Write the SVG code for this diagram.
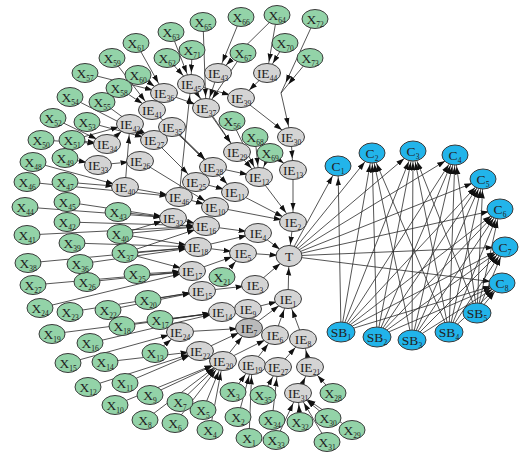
<svg xmlns="http://www.w3.org/2000/svg" width="532" height="462" viewBox="0 0 532 462">
<defs>
<marker id="ah" markerUnits="userSpaceOnUse" markerWidth="8" markerHeight="6" refX="19.5" refY="3" orient="auto"><path d="M0,0.3 L8,3 L0,5.7z" fill="#111"/></marker>
</defs>
<style>
.e line{stroke:#2a2a2a;stroke-width:.8;marker-end:url(#ah)}
.n ellipse{stroke:#3a3a3a;stroke-width:1}
.x ellipse{fill:#93d3a8}
.i ellipse{fill:#d4d4d4}
.c ellipse{fill:#22b4ea}
.n text{font-family:"Liberation Serif",serif;font-size:13.5px;text-anchor:middle;fill:#222}
.s{font-size:7.5px}
</style>
<rect width="532" height="462" fill="#fff"/>
<g id="connectors" class="e">
<line x1="171" y1="32" x2="191" y2="84"/>
<line x1="167" y1="58" x2="191" y2="84"/>
<line x1="192" y1="50" x2="191" y2="84"/>
<line x1="136" y1="43" x2="164" y2="93"/>
<line x1="138" y1="75" x2="164" y2="93"/>
<line x1="85" y1="73" x2="164" y2="93"/>
<line x1="112" y1="58" x2="152" y2="110"/>
<line x1="119" y1="88" x2="152" y2="110"/>
<line x1="102" y1="102" x2="154" y2="140"/>
<line x1="70" y1="97" x2="154" y2="140"/>
<line x1="87" y1="122" x2="154" y2="140"/>
<line x1="53" y1="118" x2="107" y2="144"/>
<line x1="41" y1="140" x2="107" y2="144"/>
<line x1="72" y1="140" x2="130" y2="124"/>
<line x1="72" y1="140" x2="107" y2="144"/>
<line x1="203" y1="22" x2="206" y2="108"/>
<line x1="241" y1="17" x2="218" y2="73"/>
<line x1="243" y1="53" x2="206" y2="108"/>
<line x1="277" y1="15" x2="267" y2="73"/>
<line x1="277" y1="15" x2="218" y2="73"/>
<line x1="285" y1="43" x2="267" y2="73"/>
<line x1="315" y1="19" x2="281" y2="93"/>
<line x1="310" y1="58" x2="281" y2="93"/>
<line x1="218" y1="73" x2="206" y2="108"/>
<line x1="191" y1="84" x2="206" y2="108"/>
<line x1="191" y1="84" x2="241" y2="98"/>
<line x1="267" y1="73" x2="241" y2="98"/>
<line x1="281" y1="93" x2="291" y2="137"/>
<line x1="241" y1="98" x2="291" y2="137"/>
<line x1="291" y1="137" x2="293" y2="170"/>
<line x1="270" y1="153" x2="293" y2="170"/>
<line x1="270" y1="153" x2="259" y2="177"/>
<line x1="255" y1="137" x2="259" y2="177"/>
<line x1="232" y1="121" x2="259" y2="177"/>
<line x1="237" y1="152" x2="259" y2="177"/>
<line x1="213" y1="167" x2="259" y2="177"/>
<line x1="206" y1="108" x2="237" y2="152"/>
<line x1="191" y1="84" x2="237" y2="152"/>
<line x1="164" y1="93" x2="206" y2="108"/>
<line x1="152" y1="110" x2="213" y2="167"/>
<line x1="172" y1="127" x2="213" y2="167"/>
<line x1="172" y1="127" x2="235" y2="192"/>
<line x1="130" y1="124" x2="154" y2="140"/>
<line x1="107" y1="144" x2="130" y2="124"/>
<line x1="154" y1="140" x2="196" y2="182"/>
<line x1="196" y1="182" x2="235" y2="192"/>
<line x1="98" y1="165" x2="140" y2="161"/>
<line x1="140" y1="161" x2="215" y2="207"/>
<line x1="65" y1="158" x2="98" y2="165"/>
<line x1="33" y1="162" x2="125" y2="187"/>
<line x1="65" y1="182" x2="125" y2="187"/>
<line x1="125" y1="187" x2="179" y2="197"/>
<line x1="125" y1="187" x2="130" y2="124"/>
<line x1="179" y1="197" x2="191" y2="84"/>
<line x1="179" y1="197" x2="215" y2="207"/>
<line x1="215" y1="207" x2="293" y2="222"/>
<line x1="235" y1="192" x2="293" y2="222"/>
<line x1="259" y1="177" x2="293" y2="222"/>
<line x1="293" y1="170" x2="293" y2="222"/>
<line x1="293" y1="222" x2="289" y2="256"/>
<line x1="27" y1="182" x2="179" y2="197"/>
<line x1="25" y1="207" x2="173" y2="218"/>
<line x1="67" y1="202" x2="173" y2="218"/>
<line x1="118" y1="212" x2="173" y2="218"/>
<line x1="67" y1="222" x2="206" y2="226"/>
<line x1="27" y1="235" x2="206" y2="226"/>
<line x1="120" y1="234" x2="173" y2="218"/>
<line x1="120" y1="234" x2="206" y2="226"/>
<line x1="120" y1="234" x2="198" y2="247"/>
<line x1="72" y1="243" x2="198" y2="247"/>
<line x1="125" y1="253" x2="198" y2="247"/>
<line x1="125" y1="253" x2="206" y2="226"/>
<line x1="28" y1="263" x2="198" y2="247"/>
<line x1="80" y1="264" x2="198" y2="247"/>
<line x1="33" y1="285" x2="192" y2="271"/>
<line x1="87" y1="282" x2="192" y2="271"/>
<line x1="137" y1="274" x2="192" y2="271"/>
<line x1="125" y1="253" x2="192" y2="271"/>
<line x1="40" y1="308" x2="192" y2="271"/>
<line x1="70" y1="312" x2="202" y2="291"/>
<line x1="108" y1="310" x2="202" y2="291"/>
<line x1="148" y1="300" x2="202" y2="291"/>
<line x1="52" y1="334" x2="222" y2="312"/>
<line x1="122" y1="326" x2="222" y2="312"/>
<line x1="160" y1="320" x2="222" y2="312"/>
<line x1="90" y1="343" x2="222" y2="312"/>
<line x1="68" y1="363" x2="180" y2="332"/>
<line x1="105" y1="362" x2="200" y2="351"/>
<line x1="155" y1="353" x2="180" y2="332"/>
<line x1="88" y1="387" x2="200" y2="351"/>
<line x1="125" y1="383" x2="200" y2="351"/>
<line x1="150" y1="395" x2="223" y2="361"/>
<line x1="115" y1="405" x2="223" y2="361"/>
<line x1="145" y1="420" x2="223" y2="361"/>
<line x1="180" y1="402" x2="223" y2="361"/>
<line x1="175" y1="423" x2="223" y2="361"/>
<line x1="203" y1="410" x2="223" y2="361"/>
<line x1="210" y1="430" x2="223" y2="361"/>
<line x1="233" y1="392" x2="252" y2="365"/>
<line x1="238" y1="417" x2="252" y2="365"/>
<line x1="249" y1="438" x2="252" y2="365"/>
<line x1="263" y1="395" x2="278" y2="367"/>
<line x1="272" y1="420" x2="278" y2="367"/>
<line x1="276" y1="440" x2="298" y2="393"/>
<line x1="300" y1="422" x2="298" y2="393"/>
<line x1="328" y1="418" x2="298" y2="393"/>
<line x1="327" y1="442" x2="298" y2="393"/>
<line x1="352" y1="430" x2="298" y2="393"/>
<line x1="333" y1="393" x2="310" y2="367"/>
<line x1="298" y1="393" x2="310" y2="367"/>
<line x1="310" y1="367" x2="303" y2="339"/>
<line x1="278" y1="367" x2="303" y2="339"/>
<line x1="252" y1="365" x2="275" y2="335"/>
<line x1="223" y1="361" x2="275" y2="335"/>
<line x1="223" y1="361" x2="249" y2="328"/>
<line x1="200" y1="351" x2="249" y2="328"/>
<line x1="180" y1="332" x2="249" y2="328"/>
<line x1="222" y1="312" x2="248" y2="309"/>
<line x1="249" y1="328" x2="288" y2="299"/>
<line x1="248" y1="309" x2="288" y2="299"/>
<line x1="275" y1="335" x2="288" y2="299"/>
<line x1="303" y1="339" x2="288" y2="299"/>
<line x1="202" y1="291" x2="255" y2="285"/>
<line x1="192" y1="271" x2="243" y2="253"/>
<line x1="198" y1="247" x2="243" y2="253"/>
<line x1="198" y1="247" x2="258" y2="233"/>
<line x1="206" y1="226" x2="258" y2="233"/>
<line x1="222" y1="277" x2="243" y2="253"/>
<line x1="173" y1="218" x2="206" y2="226"/>
<line x1="288" y1="299" x2="289" y2="256"/>
<line x1="255" y1="285" x2="289" y2="256"/>
<line x1="258" y1="233" x2="289" y2="256"/>
<line x1="243" y1="253" x2="289" y2="256"/>
<line x1="289" y1="256" x2="338" y2="166"/>
<line x1="289" y1="256" x2="372" y2="153"/>
<line x1="289" y1="256" x2="413" y2="151"/>
<line x1="289" y1="256" x2="455" y2="155"/>
<line x1="289" y1="256" x2="483" y2="179"/>
<line x1="289" y1="256" x2="500" y2="209"/>
<line x1="289" y1="256" x2="505" y2="247"/>
<line x1="289" y1="256" x2="502" y2="283"/>
<line x1="341" y1="332" x2="338" y2="166"/>
<line x1="341" y1="332" x2="372" y2="153"/>
<line x1="341" y1="332" x2="413" y2="151"/>
<line x1="341" y1="332" x2="455" y2="155"/>
<line x1="341" y1="332" x2="483" y2="179"/>
<line x1="341" y1="332" x2="500" y2="209"/>
<line x1="341" y1="332" x2="505" y2="247"/>
<line x1="341" y1="332" x2="502" y2="283"/>
<line x1="377" y1="337" x2="372" y2="153"/>
<line x1="377" y1="337" x2="413" y2="151"/>
<line x1="377" y1="337" x2="455" y2="155"/>
<line x1="377" y1="337" x2="483" y2="179"/>
<line x1="377" y1="337" x2="500" y2="209"/>
<line x1="377" y1="337" x2="505" y2="247"/>
<line x1="377" y1="337" x2="502" y2="283"/>
<line x1="412" y1="340" x2="372" y2="153"/>
<line x1="412" y1="340" x2="413" y2="151"/>
<line x1="412" y1="340" x2="455" y2="155"/>
<line x1="412" y1="340" x2="483" y2="179"/>
<line x1="412" y1="340" x2="500" y2="209"/>
<line x1="412" y1="340" x2="505" y2="247"/>
<line x1="412" y1="340" x2="502" y2="283"/>
<line x1="449" y1="332" x2="372" y2="153"/>
<line x1="449" y1="332" x2="413" y2="151"/>
<line x1="449" y1="332" x2="455" y2="155"/>
<line x1="449" y1="332" x2="483" y2="179"/>
<line x1="449" y1="332" x2="500" y2="209"/>
<line x1="449" y1="332" x2="505" y2="247"/>
<line x1="449" y1="332" x2="502" y2="283"/>
<line x1="477" y1="313" x2="413" y2="151"/>
<line x1="477" y1="313" x2="455" y2="155"/>
<line x1="477" y1="313" x2="483" y2="179"/>
<line x1="477" y1="313" x2="500" y2="209"/>
<line x1="477" y1="313" x2="505" y2="247"/>
<line x1="477" y1="313" x2="502" y2="283"/>
</g>
<g id="X1" class="n x"><ellipse cx="249" cy="438" rx="13" ry="9.5"/><text x="249" y="442.5">X<tspan class="s" dy="3">1</tspan></text></g>
<g id="X2" class="n x"><ellipse cx="238" cy="417" rx="13" ry="9.5"/><text x="238" y="421.5">X<tspan class="s" dy="3">2</tspan></text></g>
<g id="X3" class="n x"><ellipse cx="233" cy="392" rx="13" ry="9.5"/><text x="233" y="396.5">X<tspan class="s" dy="3">3</tspan></text></g>
<g id="X4" class="n x"><ellipse cx="210" cy="430" rx="13" ry="9.5"/><text x="210" y="434.5">X<tspan class="s" dy="3">4</tspan></text></g>
<g id="X5" class="n x"><ellipse cx="203" cy="410" rx="13" ry="9.5"/><text x="203" y="414.5">X<tspan class="s" dy="3">5</tspan></text></g>
<g id="X6" class="n x"><ellipse cx="175" cy="423" rx="13" ry="9.5"/><text x="175" y="427.5">X<tspan class="s" dy="3">6</tspan></text></g>
<g id="X7" class="n x"><ellipse cx="180" cy="402" rx="13" ry="9.5"/><text x="180" y="406.5">X<tspan class="s" dy="3">7</tspan></text></g>
<g id="X8" class="n x"><ellipse cx="145" cy="420" rx="13" ry="9.5"/><text x="145" y="424.5">X<tspan class="s" dy="3">8</tspan></text></g>
<g id="X9" class="n x"><ellipse cx="150" cy="395" rx="13" ry="9.5"/><text x="150" y="399.5">X<tspan class="s" dy="3">9</tspan></text></g>
<g id="X10" class="n x"><ellipse cx="115" cy="405" rx="13" ry="9.5"/><text x="115" y="409.5">X<tspan class="s" dy="3">10</tspan></text></g>
<g id="X11" class="n x"><ellipse cx="125" cy="383" rx="13" ry="9.5"/><text x="125" y="387.5">X<tspan class="s" dy="3">11</tspan></text></g>
<g id="X12" class="n x"><ellipse cx="88" cy="387" rx="13" ry="9.5"/><text x="88" y="391.5">X<tspan class="s" dy="3">12</tspan></text></g>
<g id="X13" class="n x"><ellipse cx="155" cy="353" rx="13" ry="9.5"/><text x="155" y="357.5">X<tspan class="s" dy="3">13</tspan></text></g>
<g id="X14" class="n x"><ellipse cx="105" cy="362" rx="13" ry="9.5"/><text x="105" y="366.5">X<tspan class="s" dy="3">14</tspan></text></g>
<g id="X15" class="n x"><ellipse cx="68" cy="363" rx="13" ry="9.5"/><text x="68" y="367.5">X<tspan class="s" dy="3">15</tspan></text></g>
<g id="X16" class="n x"><ellipse cx="90" cy="343" rx="13" ry="9.5"/><text x="90" y="347.5">X<tspan class="s" dy="3">16</tspan></text></g>
<g id="X17" class="n x"><ellipse cx="160" cy="320" rx="13" ry="9.5"/><text x="160" y="324.5">X<tspan class="s" dy="3">17</tspan></text></g>
<g id="X18" class="n x"><ellipse cx="122" cy="326" rx="13" ry="9.5"/><text x="122" y="330.5">X<tspan class="s" dy="3">18</tspan></text></g>
<g id="X19" class="n x"><ellipse cx="52" cy="334" rx="13" ry="9.5"/><text x="52" y="338.5">X<tspan class="s" dy="3">19</tspan></text></g>
<g id="X20" class="n x"><ellipse cx="148" cy="300" rx="13" ry="9.5"/><text x="148" y="304.5">X<tspan class="s" dy="3">20</tspan></text></g>
<g id="X21" class="n x"><ellipse cx="222" cy="277" rx="13" ry="9.5"/><text x="222" y="281.5">X<tspan class="s" dy="3">21</tspan></text></g>
<g id="X22" class="n x"><ellipse cx="108" cy="310" rx="13" ry="9.5"/><text x="108" y="314.5">X<tspan class="s" dy="3">22</tspan></text></g>
<g id="X23" class="n x"><ellipse cx="70" cy="312" rx="13" ry="9.5"/><text x="70" y="316.5">X<tspan class="s" dy="3">23</tspan></text></g>
<g id="X24" class="n x"><ellipse cx="40" cy="308" rx="13" ry="9.5"/><text x="40" y="312.5">X<tspan class="s" dy="3">24</tspan></text></g>
<g id="X25" class="n x"><ellipse cx="137" cy="274" rx="13" ry="9.5"/><text x="137" y="278.5">X<tspan class="s" dy="3">25</tspan></text></g>
<g id="X26" class="n x"><ellipse cx="87" cy="282" rx="13" ry="9.5"/><text x="87" y="286.5">X<tspan class="s" dy="3">26</tspan></text></g>
<g id="X27" class="n x"><ellipse cx="33" cy="285" rx="13" ry="9.5"/><text x="33" y="289.5">X<tspan class="s" dy="3">27</tspan></text></g>
<g id="X28" class="n x"><ellipse cx="333" cy="393" rx="13" ry="9.5"/><text x="333" y="397.5">X<tspan class="s" dy="3">28</tspan></text></g>
<g id="X29" class="n x"><ellipse cx="352" cy="430" rx="13" ry="9.5"/><text x="352" y="434.5">X<tspan class="s" dy="3">29</tspan></text></g>
<g id="X30" class="n x"><ellipse cx="328" cy="418" rx="13" ry="9.5"/><text x="328" y="422.5">X<tspan class="s" dy="3">30</tspan></text></g>
<g id="X31" class="n x"><ellipse cx="327" cy="442" rx="13" ry="9.5"/><text x="327" y="446.5">X<tspan class="s" dy="3">31</tspan></text></g>
<g id="X32" class="n x"><ellipse cx="300" cy="422" rx="13" ry="9.5"/><text x="300" y="426.5">X<tspan class="s" dy="3">32</tspan></text></g>
<g id="X33" class="n x"><ellipse cx="276" cy="440" rx="13" ry="9.5"/><text x="276" y="444.5">X<tspan class="s" dy="3">33</tspan></text></g>
<g id="X34" class="n x"><ellipse cx="272" cy="420" rx="13" ry="9.5"/><text x="272" y="424.5">X<tspan class="s" dy="3">34</tspan></text></g>
<g id="X35" class="n x"><ellipse cx="263" cy="395" rx="13" ry="9.5"/><text x="263" y="399.5">X<tspan class="s" dy="3">35</tspan></text></g>
<g id="X36" class="n x"><ellipse cx="80" cy="264" rx="13" ry="9.5"/><text x="80" y="268.5">X<tspan class="s" dy="3">36</tspan></text></g>
<g id="X37" class="n x"><ellipse cx="125" cy="253" rx="13" ry="9.5"/><text x="125" y="257.5">X<tspan class="s" dy="3">37</tspan></text></g>
<g id="X38" class="n x"><ellipse cx="28" cy="263" rx="13" ry="9.5"/><text x="28" y="267.5">X<tspan class="s" dy="3">38</tspan></text></g>
<g id="X39" class="n x"><ellipse cx="72" cy="243" rx="13" ry="9.5"/><text x="72" y="247.5">X<tspan class="s" dy="3">39</tspan></text></g>
<g id="X40" class="n x"><ellipse cx="120" cy="234" rx="13" ry="9.5"/><text x="120" y="238.5">X<tspan class="s" dy="3">40</tspan></text></g>
<g id="X41" class="n x"><ellipse cx="27" cy="235" rx="13" ry="9.5"/><text x="27" y="239.5">X<tspan class="s" dy="3">41</tspan></text></g>
<g id="X42" class="n x"><ellipse cx="67" cy="222" rx="13" ry="9.5"/><text x="67" y="226.5">X<tspan class="s" dy="3">42</tspan></text></g>
<g id="X43" class="n x"><ellipse cx="118" cy="212" rx="13" ry="9.5"/><text x="118" y="216.5">X<tspan class="s" dy="3">43</tspan></text></g>
<g id="X44" class="n x"><ellipse cx="25" cy="207" rx="13" ry="9.5"/><text x="25" y="211.5">X<tspan class="s" dy="3">44</tspan></text></g>
<g id="X45" class="n x"><ellipse cx="67" cy="202" rx="13" ry="9.5"/><text x="67" y="206.5">X<tspan class="s" dy="3">45</tspan></text></g>
<g id="X46" class="n x"><ellipse cx="27" cy="182" rx="13" ry="9.5"/><text x="27" y="186.5">X<tspan class="s" dy="3">46</tspan></text></g>
<g id="X47" class="n x"><ellipse cx="65" cy="182" rx="13" ry="9.5"/><text x="65" y="186.5">X<tspan class="s" dy="3">47</tspan></text></g>
<g id="X48" class="n x"><ellipse cx="33" cy="162" rx="13" ry="9.5"/><text x="33" y="166.5">X<tspan class="s" dy="3">48</tspan></text></g>
<g id="X49" class="n x"><ellipse cx="65" cy="158" rx="13" ry="9.5"/><text x="65" y="162.5">X<tspan class="s" dy="3">49</tspan></text></g>
<g id="X50" class="n x"><ellipse cx="41" cy="140" rx="13" ry="9.5"/><text x="41" y="144.5">X<tspan class="s" dy="3">50</tspan></text></g>
<g id="X51" class="n x"><ellipse cx="72" cy="140" rx="13" ry="9.5"/><text x="72" y="144.5">X<tspan class="s" dy="3">51</tspan></text></g>
<g id="X52" class="n x"><ellipse cx="53" cy="118" rx="13" ry="9.5"/><text x="53" y="122.5">X<tspan class="s" dy="3">52</tspan></text></g>
<g id="X53" class="n x"><ellipse cx="87" cy="122" rx="13" ry="9.5"/><text x="87" y="126.5">X<tspan class="s" dy="3">53</tspan></text></g>
<g id="X54" class="n x"><ellipse cx="70" cy="97" rx="13" ry="9.5"/><text x="70" y="101.5">X<tspan class="s" dy="3">54</tspan></text></g>
<g id="X55" class="n x"><ellipse cx="102" cy="102" rx="13" ry="9.5"/><text x="102" y="106.5">X<tspan class="s" dy="3">55</tspan></text></g>
<g id="X56" class="n x"><ellipse cx="232" cy="121" rx="13" ry="9.5"/><text x="232" y="125.5">X<tspan class="s" dy="3">56</tspan></text></g>
<g id="X57" class="n x"><ellipse cx="85" cy="73" rx="13" ry="9.5"/><text x="85" y="77.5">X<tspan class="s" dy="3">57</tspan></text></g>
<g id="X58" class="n x"><ellipse cx="119" cy="88" rx="13" ry="9.5"/><text x="119" y="92.5">X<tspan class="s" dy="3">58</tspan></text></g>
<g id="X59" class="n x"><ellipse cx="112" cy="58" rx="13" ry="9.5"/><text x="112" y="62.5">X<tspan class="s" dy="3">59</tspan></text></g>
<g id="X60" class="n x"><ellipse cx="138" cy="75" rx="13" ry="9.5"/><text x="138" y="79.5">X<tspan class="s" dy="3">60</tspan></text></g>
<g id="X61" class="n x"><ellipse cx="136" cy="43" rx="13" ry="9.5"/><text x="136" y="47.5">X<tspan class="s" dy="3">61</tspan></text></g>
<g id="X62" class="n x"><ellipse cx="167" cy="58" rx="13" ry="9.5"/><text x="167" y="62.5">X<tspan class="s" dy="3">62</tspan></text></g>
<g id="X63" class="n x"><ellipse cx="171" cy="32" rx="13" ry="9.5"/><text x="171" y="36.5">X<tspan class="s" dy="3">63</tspan></text></g>
<g id="X64" class="n x"><ellipse cx="277" cy="15" rx="13" ry="9.5"/><text x="277" y="19.5">X<tspan class="s" dy="3">64</tspan></text></g>
<g id="X65" class="n x"><ellipse cx="203" cy="22" rx="13" ry="9.5"/><text x="203" y="26.5">X<tspan class="s" dy="3">65</tspan></text></g>
<g id="X66" class="n x"><ellipse cx="241" cy="17" rx="13" ry="9.5"/><text x="241" y="21.5">X<tspan class="s" dy="3">66</tspan></text></g>
<g id="X67" class="n x"><ellipse cx="243" cy="53" rx="13" ry="9.5"/><text x="243" y="57.5">X<tspan class="s" dy="3">67</tspan></text></g>
<g id="X68" class="n x"><ellipse cx="255" cy="137" rx="13" ry="9.5"/><text x="255" y="141.5">X<tspan class="s" dy="3">68</tspan></text></g>
<g id="X69" class="n x"><ellipse cx="270" cy="153" rx="13" ry="9.5"/><text x="270" y="157.5">X<tspan class="s" dy="3">69</tspan></text></g>
<g id="X70" class="n x"><ellipse cx="285" cy="43" rx="13" ry="9.5"/><text x="285" y="47.5">X<tspan class="s" dy="3">70</tspan></text></g>
<g id="X71" class="n x"><ellipse cx="192" cy="50" rx="13" ry="9.5"/><text x="192" y="54.5">X<tspan class="s" dy="3">71</tspan></text></g>
<g id="X72" class="n x"><ellipse cx="315" cy="19" rx="13" ry="9.5"/><text x="315" y="23.5">X<tspan class="s" dy="3">72</tspan></text></g>
<g id="X73" class="n x"><ellipse cx="310" cy="58" rx="13" ry="9.5"/><text x="310" y="62.5">X<tspan class="s" dy="3">73</tspan></text></g>
<g id="IE1" class="n i"><ellipse cx="288" cy="299" rx="13.5" ry="9.5"/><text x="288" y="303.5">IE<tspan class="s" dy="3">1</tspan></text></g>
<g id="IE2" class="n i"><ellipse cx="293" cy="222" rx="13.5" ry="9.5"/><text x="293" y="226.5">IE<tspan class="s" dy="3">2</tspan></text></g>
<g id="IE3" class="n i"><ellipse cx="255" cy="285" rx="13.5" ry="9.5"/><text x="255" y="289.5">IE<tspan class="s" dy="3">3</tspan></text></g>
<g id="IE4" class="n i"><ellipse cx="258" cy="233" rx="13.5" ry="9.5"/><text x="258" y="237.5">IE<tspan class="s" dy="3">4</tspan></text></g>
<g id="IE5" class="n i"><ellipse cx="243" cy="253" rx="13.5" ry="9.5"/><text x="243" y="257.5">IE<tspan class="s" dy="3">5</tspan></text></g>
<g id="IE6" class="n i"><ellipse cx="275" cy="335" rx="13.5" ry="9.5"/><text x="275" y="339.5">IE<tspan class="s" dy="3">6</tspan></text></g>
<g id="IE7" class="n i"><ellipse cx="249" cy="328" rx="13.5" ry="9.5" style="fill:#bababa"/><text x="249" y="332.5">IE<tspan class="s" dy="3">7</tspan></text></g>
<g id="IE8" class="n i"><ellipse cx="303" cy="339" rx="13.5" ry="9.5"/><text x="303" y="343.5">IE<tspan class="s" dy="3">8</tspan></text></g>
<g id="IE9" class="n i"><ellipse cx="248" cy="309" rx="13.5" ry="9.5"/><text x="248" y="313.5">IE<tspan class="s" dy="3">9</tspan></text></g>
<g id="IE10" class="n i"><ellipse cx="215" cy="207" rx="13.5" ry="9.5"/><text x="215" y="211.5">IE<tspan class="s" dy="3">10</tspan></text></g>
<g id="IE11" class="n i"><ellipse cx="235" cy="192" rx="13.5" ry="9.5"/><text x="235" y="196.5">IE<tspan class="s" dy="3">11</tspan></text></g>
<g id="IE12" class="n i"><ellipse cx="259" cy="177" rx="13.5" ry="9.5"/><text x="259" y="181.5">IE<tspan class="s" dy="3">12</tspan></text></g>
<g id="IE13" class="n i"><ellipse cx="293" cy="170" rx="13.5" ry="9.5"/><text x="293" y="174.5">IE<tspan class="s" dy="3">13</tspan></text></g>
<g id="IE14" class="n i"><ellipse cx="222" cy="312" rx="13.5" ry="9.5"/><text x="222" y="316.5">IE<tspan class="s" dy="3">14</tspan></text></g>
<g id="IE15" class="n i"><ellipse cx="202" cy="291" rx="13.5" ry="9.5"/><text x="202" y="295.5">IE<tspan class="s" dy="3">15</tspan></text></g>
<g id="IE16" class="n i"><ellipse cx="206" cy="226" rx="13.5" ry="9.5"/><text x="206" y="230.5">IE<tspan class="s" dy="3">16</tspan></text></g>
<g id="IE17" class="n i"><ellipse cx="192" cy="271" rx="13.5" ry="9.5"/><text x="192" y="275.5">IE<tspan class="s" dy="3">17</tspan></text></g>
<g id="IE18" class="n i"><ellipse cx="198" cy="247" rx="13.5" ry="9.5"/><text x="198" y="251.5">IE<tspan class="s" dy="3">18</tspan></text></g>
<g id="IE19" class="n i"><ellipse cx="252" cy="365" rx="13.5" ry="9.5"/><text x="252" y="369.5">IE<tspan class="s" dy="3">19</tspan></text></g>
<g id="IE20" class="n i"><ellipse cx="223" cy="361" rx="13.5" ry="9.5"/><text x="223" y="365.5">IE<tspan class="s" dy="3">20</tspan></text></g>
<g id="IE21" class="n i"><ellipse cx="310" cy="367" rx="13.5" ry="9.5"/><text x="310" y="371.5">IE<tspan class="s" dy="3">21</tspan></text></g>
<g id="IE22" class="n i"><ellipse cx="200" cy="351" rx="13.5" ry="9.5"/><text x="200" y="355.5">IE<tspan class="s" dy="3">22</tspan></text></g>
<g id="IE23" class="n i"><ellipse cx="278" cy="367" rx="13.5" ry="9.5"/><text x="278" y="371.5">IE<tspan class="s" dy="3">27</tspan></text></g>
<g id="IE24" class="n i"><ellipse cx="180" cy="332" rx="13.5" ry="9.5"/><text x="180" y="336.5">IE<tspan class="s" dy="3">24</tspan></text></g>
<g id="IE25" class="n i"><ellipse cx="196" cy="182" rx="13.5" ry="9.5"/><text x="196" y="186.5">IE<tspan class="s" dy="3">25</tspan></text></g>
<g id="IE26" class="n i"><ellipse cx="140" cy="161" rx="13.5" ry="9.5"/><text x="140" y="165.5">IE<tspan class="s" dy="3">26</tspan></text></g>
<g id="IE27" class="n i"><ellipse cx="154" cy="140" rx="13.5" ry="9.5"/><text x="154" y="144.5">IE<tspan class="s" dy="3">27</tspan></text></g>
<g id="IE28" class="n i"><ellipse cx="213" cy="167" rx="13.5" ry="9.5"/><text x="213" y="171.5">IE<tspan class="s" dy="3">28</tspan></text></g>
<g id="IE29" class="n i"><ellipse cx="237" cy="152" rx="13.5" ry="9.5"/><text x="237" y="156.5">IE<tspan class="s" dy="3">29</tspan></text></g>
<g id="IE30" class="n i"><ellipse cx="291" cy="137" rx="13.5" ry="9.5"/><text x="291" y="141.5">IE<tspan class="s" dy="3">30</tspan></text></g>
<g id="IE31" class="n i"><ellipse cx="298" cy="393" rx="13.5" ry="9.5"/><text x="298" y="397.5">IE<tspan class="s" dy="3">31</tspan></text></g>
<g id="IE32" class="n i"><ellipse cx="173" cy="218" rx="13.5" ry="9.5"/><text x="173" y="222.5">IE<tspan class="s" dy="3">32</tspan></text></g>
<g id="IE33" class="n i"><ellipse cx="98" cy="165" rx="13.5" ry="9.5"/><text x="98" y="169.5">IE<tspan class="s" dy="3">33</tspan></text></g>
<g id="IE34" class="n i"><ellipse cx="107" cy="144" rx="13.5" ry="9.5"/><text x="107" y="148.5">IE<tspan class="s" dy="3">34</tspan></text></g>
<g id="IE35" class="n i"><ellipse cx="172" cy="127" rx="13.5" ry="9.5"/><text x="172" y="131.5">IE<tspan class="s" dy="3">35</tspan></text></g>
<g id="IE36" class="n i"><ellipse cx="164" cy="93" rx="13.5" ry="9.5"/><text x="164" y="97.5">IE<tspan class="s" dy="3">36</tspan></text></g>
<g id="IE37" class="n i"><ellipse cx="206" cy="108" rx="13.5" ry="9.5"/><text x="206" y="112.5">IE<tspan class="s" dy="3">37</tspan></text></g>
<g id="IE39" class="n i"><ellipse cx="241" cy="98" rx="13.5" ry="9.5"/><text x="241" y="102.5">IE<tspan class="s" dy="3">39</tspan></text></g>
<g id="IE40" class="n i"><ellipse cx="125" cy="187" rx="13.5" ry="9.5"/><text x="125" y="191.5">IE<tspan class="s" dy="3">40</tspan></text></g>
<g id="IE41" class="n i"><ellipse cx="152" cy="110" rx="13.5" ry="9.5"/><text x="152" y="114.5">IE<tspan class="s" dy="3">41</tspan></text></g>
<g id="IE42" class="n i"><ellipse cx="130" cy="124" rx="13.5" ry="9.5"/><text x="130" y="128.5">IE<tspan class="s" dy="3">42</tspan></text></g>
<g id="IE43" class="n i"><ellipse cx="218" cy="73" rx="13.5" ry="9.5"/><text x="218" y="77.5">IE<tspan class="s" dy="3">43</tspan></text></g>
<g id="IE44" class="n i"><ellipse cx="267" cy="73" rx="13.5" ry="9.5"/><text x="267" y="77.5">IE<tspan class="s" dy="3">44</tspan></text></g>
<g id="IE45" class="n i"><ellipse cx="191" cy="84" rx="13.5" ry="9.5"/><text x="191" y="88.5">IE<tspan class="s" dy="3">45</tspan></text></g>
<g id="IE46" class="n i"><ellipse cx="179" cy="197" rx="13.5" ry="9.5"/><text x="179" y="201.5">IE<tspan class="s" dy="3">46</tspan></text></g>
<g id="T" class="n i"><ellipse cx="289" cy="256" rx="13" ry="10.5"/><text x="289" y="261">T</text></g>
<g id="C1" class="n c"><ellipse cx="338" cy="166" rx="13" ry="10"/><text x="338" y="170.5">C<tspan class="s" dy="3">1</tspan></text></g>
<g id="C2" class="n c"><ellipse cx="372" cy="153" rx="13" ry="10"/><text x="372" y="157.5">C<tspan class="s" dy="3">2</tspan></text></g>
<g id="C3" class="n c"><ellipse cx="413" cy="151" rx="13" ry="10"/><text x="413" y="155.5">C<tspan class="s" dy="3">3</tspan></text></g>
<g id="C4" class="n c"><ellipse cx="455" cy="155" rx="13" ry="10"/><text x="455" y="159.5">C<tspan class="s" dy="3">4</tspan></text></g>
<g id="C5" class="n c"><ellipse cx="483" cy="179" rx="13" ry="10"/><text x="483" y="183.5">C<tspan class="s" dy="3">5</tspan></text></g>
<g id="C6" class="n c"><ellipse cx="500" cy="209" rx="13" ry="10"/><text x="500" y="213.5">C<tspan class="s" dy="3">6</tspan></text></g>
<g id="C7" class="n c"><ellipse cx="505" cy="247" rx="13" ry="10"/><text x="505" y="251.5">C<tspan class="s" dy="3">7</tspan></text></g>
<g id="C8" class="n c"><ellipse cx="502" cy="283" rx="13" ry="10"/><text x="502" y="287.5">C<tspan class="s" dy="3">8</tspan></text></g>
<g id="SB1" class="n c"><ellipse cx="341" cy="332" rx="14" ry="10"/><text x="341" y="336.5">SB<tspan class="s" dy="3">1</tspan></text></g>
<g id="SB2" class="n c"><ellipse cx="377" cy="337" rx="14" ry="10"/><text x="377" y="341.5">SB<tspan class="s" dy="3">2</tspan></text></g>
<g id="SB3" class="n c"><ellipse cx="412" cy="340" rx="14" ry="10"/><text x="412" y="344.5">SB<tspan class="s" dy="3">3</tspan></text></g>
<g id="SB4" class="n c"><ellipse cx="449" cy="332" rx="14" ry="10"/><text x="449" y="336.5">SB<tspan class="s" dy="3">4</tspan></text></g>
<g id="SB5" class="n c"><ellipse cx="477" cy="313" rx="14" ry="10"/><text x="477" y="317.5">SB<tspan class="s" dy="3">5</tspan></text></g>
</svg>
